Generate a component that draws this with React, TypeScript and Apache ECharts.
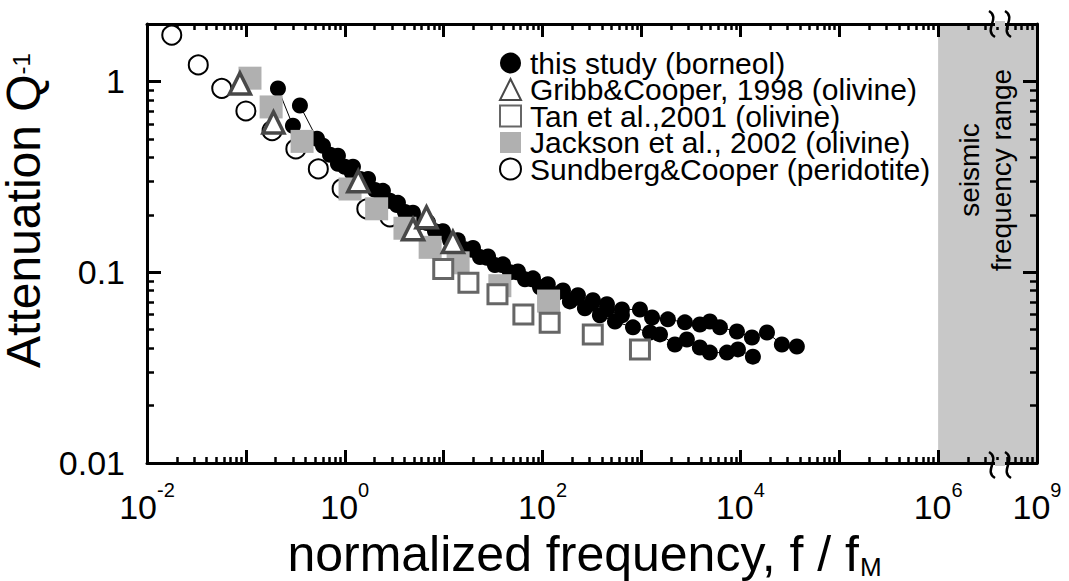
import React, { useEffect, useRef } from 'react';
import * as echarts from 'echarts';

const FONT = '"Liberation Sans", Arial, Helvetica, sans-serif';

// ---- series names ----
const N_BORNEOL = 'this study (borneol)';
const N_GRIBB = 'Gribb&Cooper, 1998 (olivine)';
const N_TAN = 'Tan et al.,2001 (olivine)';
const N_JACKSON = 'Jackson et al., 2002 (olivine)';
const N_SUNDBERG = 'Sundberg&Cooper (peridotite)';

// ---- data: [normalized frequency f/fM, attenuation Q^-1] ----
const borneolRunA: [number, number][] = [
  [0.211, 0.918], [0.299, 0.586], [0.425, 0.501], [0.602, 0.46], [0.853, 0.408], [1.21, 0.357],
  [1.72, 0.308], [2.43, 0.267], [3.45, 0.231], [4.89, 0.205], [6.94, 0.183], [9.84, 0.164],
  [13.9, 0.147], [19.8, 0.134], [28.1, 0.121], [39.8, 0.11], [56.4, 0.101], [80.0, 0.0929],
  [113, 0.0865], [161, 0.0803], [228, 0.0757], [323, 0.0713], [448, 0.0679], [635, 0.0638],
  [966, 0.0638], [1280, 0.0579], [1850, 0.0566], [2750, 0.0546], [3900, 0.0532], [4920, 0.0552],
  [6220, 0.0514], [9240, 0.0489], [13100, 0.0455], [18600, 0.0483], [26300, 0.0418], [37300, 0.0408],
];
const borneolRunB: [number, number][] = [
  [0.352, 0.748], [0.524, 0.501], [0.709, 0.413], [1.0, 0.357], [1.43, 0.308], [2.02, 0.27],
  [2.86, 0.237], [4.06, 0.207], [5.76, 0.183], [8.17, 0.164], [11.6, 0.147], [16.4, 0.132],
  [23.3, 0.12], [33.0, 0.109], [46.8, 0.1], [66.4, 0.0918], [94.2, 0.0834], [133, 0.0766],
  [189, 0.0703], [268, 0.0647], [380, 0.0594], [540, 0.0552], [821, 0.0514], [1220, 0.0483],
  [1540, 0.0472], [2180, 0.0418], [2880, 0.0444], [3900, 0.0403], [4920, 0.0379], [7320, 0.0379],
  [9460, 0.0394], [13400, 0.0361],
];
const borneolRunC: [number, number][] = [
  [0.853, 0.37], [1.18, 0.332], [1.68, 0.29], [2.38, 0.254], [3.37, 0.225], [4.78, 0.202],
  [6.78, 0.181], [9.61, 0.163], [13.6, 0.146], [19.3, 0.131], [27.4, 0.119], [38.9, 0.109],
  [55.1, 0.1], [78.2, 0.0918], [111, 0.0855], [157, 0.0794], [223, 0.0738], [316, 0.0687],
  [448, 0.0638], [635, 0.0594],
];
const gribbCooper: [number, number][] = [
  [0.087, 0.975], [0.19, 0.61], [1.37, 0.3], [4.9, 0.168], [6.7, 0.194], [12.4, 0.144],
];
const tanEtAl: [number, number][] = [
  [9.9, 0.104], [17.8, 0.088], [35, 0.0766], [64, 0.06], [118, 0.0543], [322, 0.0472], [966, 0.0394],
];
const jacksonEtAl: [number, number][] = [
  [0.11, 1.04], [0.18, 0.735], [0.37, 0.485], [1.13, 0.273], [2.1, 0.215], [4.06, 0.17],
  [7.3, 0.135], [14, 0.112], [37, 0.085], [115, 0.0706],
];
const sundbergCooper: [number, number][] = [
  [0.0178, 1.75], [0.033, 1.22], [0.057, 0.92], [0.1, 0.7], [0.184, 0.552], [0.32, 0.443],
  [0.54, 0.348], [0.94, 0.274], [1.67, 0.215], [2.86, 0.195],
];

// ---- axes ----
const X_MIN = 0.01;
const X_MAX = 1e7; // drawn position of the broken-axis end, labelled 10^9
const Y_MIN = 0.01;
const Y_MAX = 2;
const xLabelDecades = [-2, 0, 2, 4, 6, 7];
const xLabelExponents = ['-2', '0', '2', '4', '6', '9'];
const seismicBand = [1e6, 1e7];

function fmtX(v: number): string {
  const l = Math.log10(v);
  const e = Math.round(l);
  if (Math.abs(l - e) > 1e-6) return '';
  const i = xLabelDecades.indexOf(e);
  if (i < 0) return '';
  return `{b|10}{s|${xLabelExponents[i]}}`;
}
function fmtY(v: number): string {
  const l = Math.log10(v);
  if (Math.abs(l - Math.round(l)) > 1e-6) return '';
  return String(v);
}

const BLACK = '#000';
const BAND = '#c8c8c8';

function baseX(pos: 'bottom' | 'top', withLabels: boolean): any {
  return {
    type: 'log',
    position: pos,
    min: X_MIN,
    max: X_MAX,
    axisLine: { show: true, onZero: false, lineStyle: { color: BLACK, width: 3 } },
    axisTick: { show: true, inside: true, length: 13, lineStyle: { color: BLACK, width: 3 } },
    minorTick: { show: true, splitNumber: 9, length: 6, lineStyle: { color: BLACK, width: 2.5 } },
    splitLine: { show: false },
    minorSplitLine: { show: false },
    axisLabel: withLabels
      ? {
          show: true,
          margin: 17,
          showMinLabel: true,
          showMaxLabel: true,
          formatter: fmtX,
          rich: {
            b: { fontSize: 34, lineHeight: 44, verticalAlign: 'bottom', fontFamily: FONT, color: BLACK },
            s: { fontSize: 20, lineHeight: 20, verticalAlign: 'top', fontFamily: FONT, color: BLACK },
          },
        }
      : { show: false },
  };
}
function baseY(pos: 'left' | 'right', withLabels: boolean): any {
  return {
    type: 'log',
    position: pos,
    min: Y_MIN,
    max: Y_MAX,
    axisLine: { show: true, onZero: false, lineStyle: { color: BLACK, width: 3 } },
    axisTick: { show: true, inside: true, length: 14, lineStyle: { color: BLACK, width: 3 } },
    minorTick: { show: true, splitNumber: 9, length: 7, lineStyle: { color: BLACK, width: 2.5 } },
    splitLine: { show: false },
    minorSplitLine: { show: false },
    axisLabel: withLabels
      ? { show: true, margin: 22, fontSize: 34, fontFamily: FONT, color: BLACK, formatter: fmtY, showMinLabel: true }
      : { show: false },
  };
}

function breakMark(x: number, yc: number): any {
  return {
    type: 'bezierCurve',
    z: 100,
    shape: { x1: x - 3, y1: yc - 13, cpx1: x + 9, cpy1: yc - 6, cpx2: x - 9, cpy2: yc + 6, x2: x + 3, y2: yc + 13 },
    style: { stroke: BLACK, lineWidth: 2.5, fill: 'none' },
  };
}

export default function App() {
  const ref = useRef<HTMLDivElement>(null);
  useEffect(() => {
    if (!ref.current) return;
    const chart = echarts.init(ref.current, null, { renderer: 'svg' });
    const dot = (name: string, data: [number, number][]) => ({
      type: 'line',
      name,
      data,
      symbol: 'circle',
      symbolSize: 16,
      showSymbol: true,
      z: 3,
      itemStyle: { color: BLACK, borderWidth: 0 },
      lineStyle: { color: BLACK, width: 1 },
      emphasis: { disabled: true },
    });
    const option: any = {
      animation: false,
      backgroundColor: '#fff',
      textStyle: { fontFamily: FONT },
      grid: { left: 147, right: 32, top: 24, bottom: 118, containLabel: false, outerBoundsMode: 'none' },
      xAxis: [
        {
          ...baseX('bottom', true),
          name: '{a|normalized frequency, f / f}{m|M}',
          nameLocation: 'middle',
          nameGap: 55,
          nameTextStyle: {
            padding: [0, 15, 0, 0],
            rich: {
              a: { fontSize: 50, lineHeight: 50, verticalAlign: 'top', fontFamily: FONT, color: BLACK },
              m: { fontSize: 26, lineHeight: 26, verticalAlign: 'top', padding: [25, 0, 0, 1], fontFamily: FONT, color: BLACK },
            },
          },
        },
        baseX('top', false),
      ],
      yAxis: [
        {
          ...baseY('left', true),
          name: '{a|Attenuation Q}{s|-1}',
          nameLocation: 'middle',
          nameRotate: 90,
          nameGap: 74,
          nameTextStyle: {
            padding: [0, 0, 0, 66],
            rich: {
              a: { fontSize: 48, lineHeight: 38, verticalAlign: 'bottom', fontFamily: FONT, color: BLACK },
              s: { fontSize: 24, lineHeight: 24, verticalAlign: 'top', fontFamily: FONT, color: BLACK },
            },
          },
        },
        baseY('right', false),
      ],
      legend: {
        orient: 'vertical',
        left: 494,
        top: 43,
        itemWidth: 21,
        itemHeight: 21,
        itemGap: -3.5,
        selectedMode: false,
        textStyle: { fontSize: 30, color: BLACK, fontFamily: FONT, padding: [0, 0, 0, 4] },
        data: [
          { name: N_BORNEOL, icon: 'circle' },
          { name: N_GRIBB, icon: 'triangle' },
          { name: N_TAN, icon: 'rect' },
          { name: N_JACKSON, icon: 'rect' },
          { name: N_SUNDBERG, icon: 'circle' },
        ],
      },
      series: [
        {
          // seismic frequency band, drawn beneath the axes so their ticks stay visible
          type: 'custom',
          name: 'seismic frequency range',
          z: -1,
          silent: true,
          clip: false,
          data: [[seismicBand[0], seismicBand[1], Y_MIN, Y_MAX]],
          encode: { x: [0, 1], y: [2, 3] },
          renderItem: (_params: any, api: any) => {
            const p0 = api.coord([api.value(0), api.value(3)]);
            const p1 = api.coord([api.value(1), api.value(2)]);
            return {
              type: 'rect',
              shape: { x: p0[0], y: p0[1], width: p1[0] - p0[0], height: p1[1] - p0[1] },
              style: { fill: BAND },
            };
          },
        },
        {
          type: 'scatter',
          name: N_SUNDBERG,
          data: sundbergCooper,
          symbol: 'circle',
          symbolSize: 19,
          z: 3,
          itemStyle: { color: '#fff', borderColor: BLACK, borderWidth: 2, opacity: 1 },
          emphasis: { disabled: true },
        },
        dot(N_BORNEOL, borneolRunA),
        dot(N_BORNEOL, borneolRunB),
        dot(N_BORNEOL, borneolRunC),
        {
          type: 'scatter',
          name: N_JACKSON,
          data: jacksonEtAl,
          symbol: 'rect',
          symbolSize: 23,
          z: 3,
          itemStyle: { color: '#b0b0b0', borderWidth: 0, opacity: 1 },
          emphasis: { disabled: true },
        },
        {
          type: 'scatter',
          name: N_TAN,
          data: tanEtAl,
          symbol: 'rect',
          symbolSize: 19,
          z: 3,
          itemStyle: { color: '#fff', borderColor: '#666', borderWidth: 3, opacity: 1 },
          emphasis: { disabled: true },
        },
        {
          type: 'scatter',
          name: N_GRIBB,
          data: gribbCooper,
          symbol: 'triangle',
          symbolSize: 21,
          z: 3,
          itemStyle: { color: '#fff', borderColor: '#484848', borderWidth: 3.5, opacity: 1 },
          emphasis: { disabled: true },
        },
      ],
      graphic: [
        {
          type: 'text',
          x: 985,
          y: 170,
          rotation: Math.PI / 2,
          z: 100,
          style: {
            text: 'seismic\nfrequency range',
            fontSize: 28,
            lineHeight: 32,
            fontFamily: FONT,
            fill: BLACK,
            align: 'center',
            verticalAlign: 'middle',
          },
        },
        { type: 'rect', z: 99, shape: { x: 995, y: 21, width: 10, height: 6 }, style: { fill: BAND } },
        { type: 'rect', z: 99, shape: { x: 995, y: 460, width: 10, height: 6 }, style: { fill: BAND } },
        breakMark(992, 24),
        breakMark(1008, 24),
        breakMark(992, 465),
        breakMark(1008, 465),
      ],
    };
    chart.setOption(option);
    return () => chart.dispose();
  }, []);
  return (
    <div
      ref={ref}
      style={{ position: 'absolute', left: 0, top: 0, width: 1069, height: 581, background: '#fff' }}
    />
  );
}
